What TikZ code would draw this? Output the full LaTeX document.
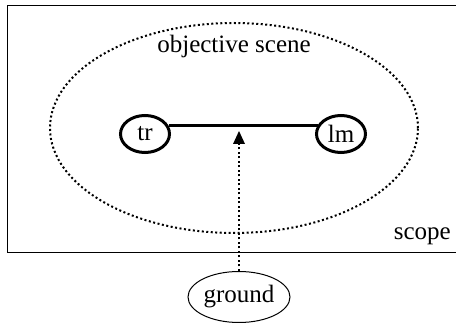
\documentclass[tikz,border=0pt]{standalone}
\usepackage{fontspec}
\setmainfont{Liberation Serif}
\usetikzlibrary{shapes.geometric,arrows.meta}
\begin{document}
\begin{tikzpicture}[x=1pt,y=-1pt,
  txt/.style={font=\fontsize{25}{28}\selectfont, inner sep=0pt},
  role/.style={draw, line width=3pt, ellipse, minimum width=49pt, minimum height=37pt, inner sep=0pt, font=\fontsize{25}{28}\selectfont},
  dots/.style={line width=2pt, dash pattern=on 2pt off 2.5pt}]
\useasboundingbox (0,0) rectangle (456,323);
\node[draw, line width=1pt, minimum width=460pt, minimum height=247pt, inner sep=0pt, anchor=north west] (scopebox) at (7,5) {};
\node[ellipse, draw, dots, minimum width=368pt, minimum height=210pt] (scene) at (234,128) {};
\node[txt] (scenelbl) at (234,46) {objective scene};
\node[txt, anchor=east] (scopelbl) at (451,236) {scope};
\node[role] (tr) at (145,134) {tr};
\node[role] (lm) at (341,134) {lm};
\draw[line width=3pt] (tr.20) -- (lm.160) coordinate[pos=0.5] (mid);
\node[ellipse, draw, line width=1pt, minimum width=102pt, minimum height=51pt, inner sep=0pt, font=\fontsize{25}{28}\selectfont] (ground) at (239,297) {ground};
\coordinate (tip) at (239,131);
\draw[dots, -{Triangle[width=12pt,length=13pt,line width=0pt]}] (ground.north) -- (tip);
\end{tikzpicture}
\end{document}
